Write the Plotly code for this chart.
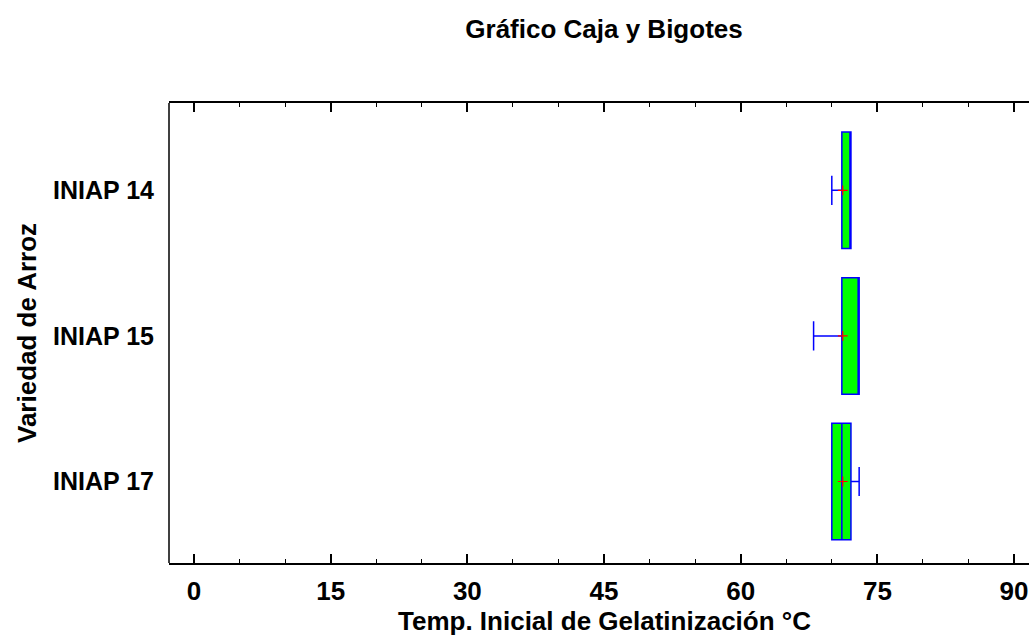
import plotly.graph_objects as go

categories = ["INIAP 14", "INIAP 15", "INIAP 17"]
lower_whisker = [70.0, 68.0, 70.0]
q1_values = [71.1, 71.1, 70.0]
median_values = [72.1, 73.0, 71.1]
q3_values = [72.1, 73.0, 72.1]
upper_whisker = [72.1, 73.0, 73.0]
mean_values = [71.2, 71.2, 71.2]
x_ticks = [0, 15, 30, 45, 60, 75, 90]

fig = go.Figure()
for i, cat in enumerate(categories):
    fig.add_trace(go.Box(
        y=[cat], orientation="h",
        q1=[q1_values[i]], median=[median_values[i]], q3=[q3_values[i]],
        lowerfence=[lower_whisker[i]], upperfence=[upper_whisker[i]],
        fillcolor="#00FF00", line=dict(color="#0000FF", width=1.5),
        width=0.8, whiskerwidth=0.25, boxpoints=False, showlegend=False,
    ))
fig.add_trace(go.Scatter(
    x=mean_values, y=categories, mode="markers",
    marker=dict(symbol="cross-thin", size=7, line=dict(color="#FF0000", width=1.2)),
    showlegend=False,
))

sans = "Liberation Sans, Arial, sans-serif"

fig.update_layout(
    width=1029, height=635,
    margin=dict(l=169, r=0, t=103, b=72),
    paper_bgcolor="white", plot_bgcolor="white",
    title=dict(text="<b>Gráfico Caja y Bigotes</b>", x=0.587, xanchor="center",
               y=1 - 29 / 635, yanchor="middle", yref="container",
               font=dict(family=sans, size=26, color="black")),
    xaxis=dict(
        range=[-2.74, 91.64], tickvals=x_ticks,
        ticktext=[f"<b>{v}</b>" for v in x_ticks],
        ticks="inside", ticklen=9, tickwidth=1.5, tickcolor="black",
        minor=dict(dtick=5, tick0=0, ticks="inside", ticklen=4, tickwidth=1, tickcolor="black"),
        showline=True, linecolor="black", linewidth=1.5, mirror="ticks",
        showgrid=False, zeroline=False,
        tickfont=dict(family=sans, size=26, color="black"),
        ticklabelstandoff=4,
    ),
    yaxis=dict(
        type="category", categoryorder="array",
        categoryarray=["INIAP 17", "INIAP 15", "INIAP 14"],
        range=[-0.56, 2.6],
        ticktext=[f"<b>{c}</b>" for c in categories], tickvals=categories,
        ticks="", showline=False,
        showgrid=False, zeroline=False,
        tickfont=dict(family=sans, size=25, color="black"),
        ticklabelstandoff=14,
    ),
    shapes=[dict(type="line", xref="paper", yref="paper", x0=0, x1=0, y0=0, y1=1,
                 line=dict(color="black", width=1.5))],
    annotations=[
        dict(text="<b>Temp. Inicial de Gelatinización °C</b>", xref="paper", yref="paper",
             x=(604 - 169) / 860, y=0, yshift=-58, xanchor="center", yanchor="middle",
             showarrow=False, font=dict(family=sans, size=26, color="black")),
        dict(text="<b>Variedad de Arroz</b>", xref="paper", yref="paper",
             x=0, xshift=-142, y=0.5, xanchor="center", yanchor="middle", textangle=-90,
             showarrow=False, font=dict(family=sans, size=26, color="black")),
    ],
)

fig.write_html("out.html", config={"displayModeBar": False},
               post_script="document.body.style.margin='0';document.body.style.overflow='hidden';")
